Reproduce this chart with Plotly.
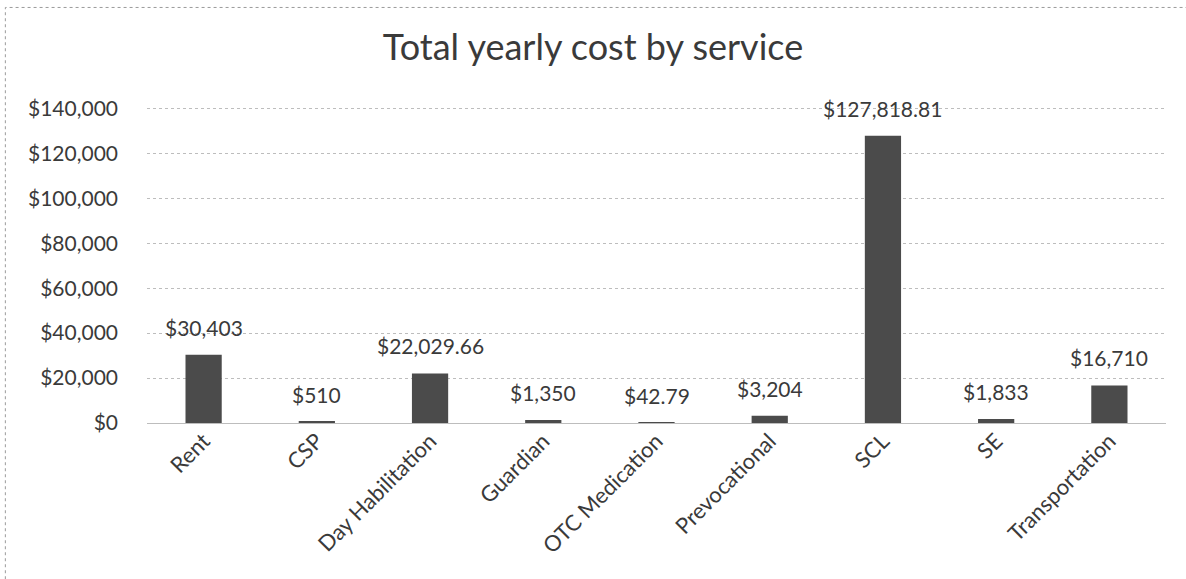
import plotly.graph_objects as go

services = ["Rent", "CSP", "Day Habilitation", "Guardian", "OTC Medication",
            "Prevocational", "SCL", "SE", "Transportation"]
costs = [30403, 510, 22029.66, 1350, 42.79, 3204, 127818.81, 1833, 16710]
decimals = [0, 0, 2, 0, 2, 0, 2, 0, 0]

y_ticks = [0, 20000, 40000, 60000, 80000, 100000, 120000, 140000]
y_tick_text = ["$" + format(v, ",") for v in y_ticks]

labels = [f"${v:,.{d}f}" for v, d in zip(costs, decimals)]

FONT = "Lato, 'Open Sans', sans-serif"
TEXT = "#3a3a3a"

fig = go.Figure(
    go.Bar(
        x=services,
        y=costs,
        marker=dict(color="#4b4b4b", line=dict(width=0)),
        width=0.32,
        cliponaxis=False,
    )
)

# value labels floating a little above each bar
for name, value, label in zip(services, costs, labels):
    fig.add_annotation(
        x=name,
        y=value,
        text=label,
        showarrow=False,
        yanchor="bottom",
        yshift=13,
        font=dict(family=FONT, size=21, color=TEXT),
    )

fig.update_layout(
    width=1186,
    height=579,
    margin=dict(l=147, r=20, t=107, b=156),
    paper_bgcolor="white",
    plot_bgcolor="white",
    showlegend=False,
    title=dict(
        text="Total yearly cost by service",
        x=0.5,
        xanchor="center",
        y=1 - 47 / 579,
        yanchor="middle",
        font=dict(family=FONT, size=36, color=TEXT),
    ),
    xaxis=dict(
        tickangle=-45,
        tickfont=dict(family=FONT, size=22, color=TEXT),
        showline=False,
        showgrid=False,
        ticks="",
    ),
    yaxis=dict(
        range=[0, 140600],
        tickvals=y_ticks,
        ticktext=y_tick_text,
        tickfont=dict(family=FONT, size=21, color=TEXT),
        showgrid=True,
        gridcolor="#bdbdbd",
        gridwidth=1,
        griddash="dot",
        zeroline=True,
        zerolinecolor="#bdbdbd",
        zerolinewidth=1,
        ticks="",
        ticklabelstandoff=28,
    ),
    shapes=[
        dict(
            type="rect",
            xref="paper",
            yref="paper",
            x0=-0.139,
            x1=1.2,
            y0=-0.8,
            y1=1.315,
            line=dict(color="#9a9a9a", width=1, dash="dot"),
            layer="below",
        )
    ],
)

fig.write_html("out.html")
